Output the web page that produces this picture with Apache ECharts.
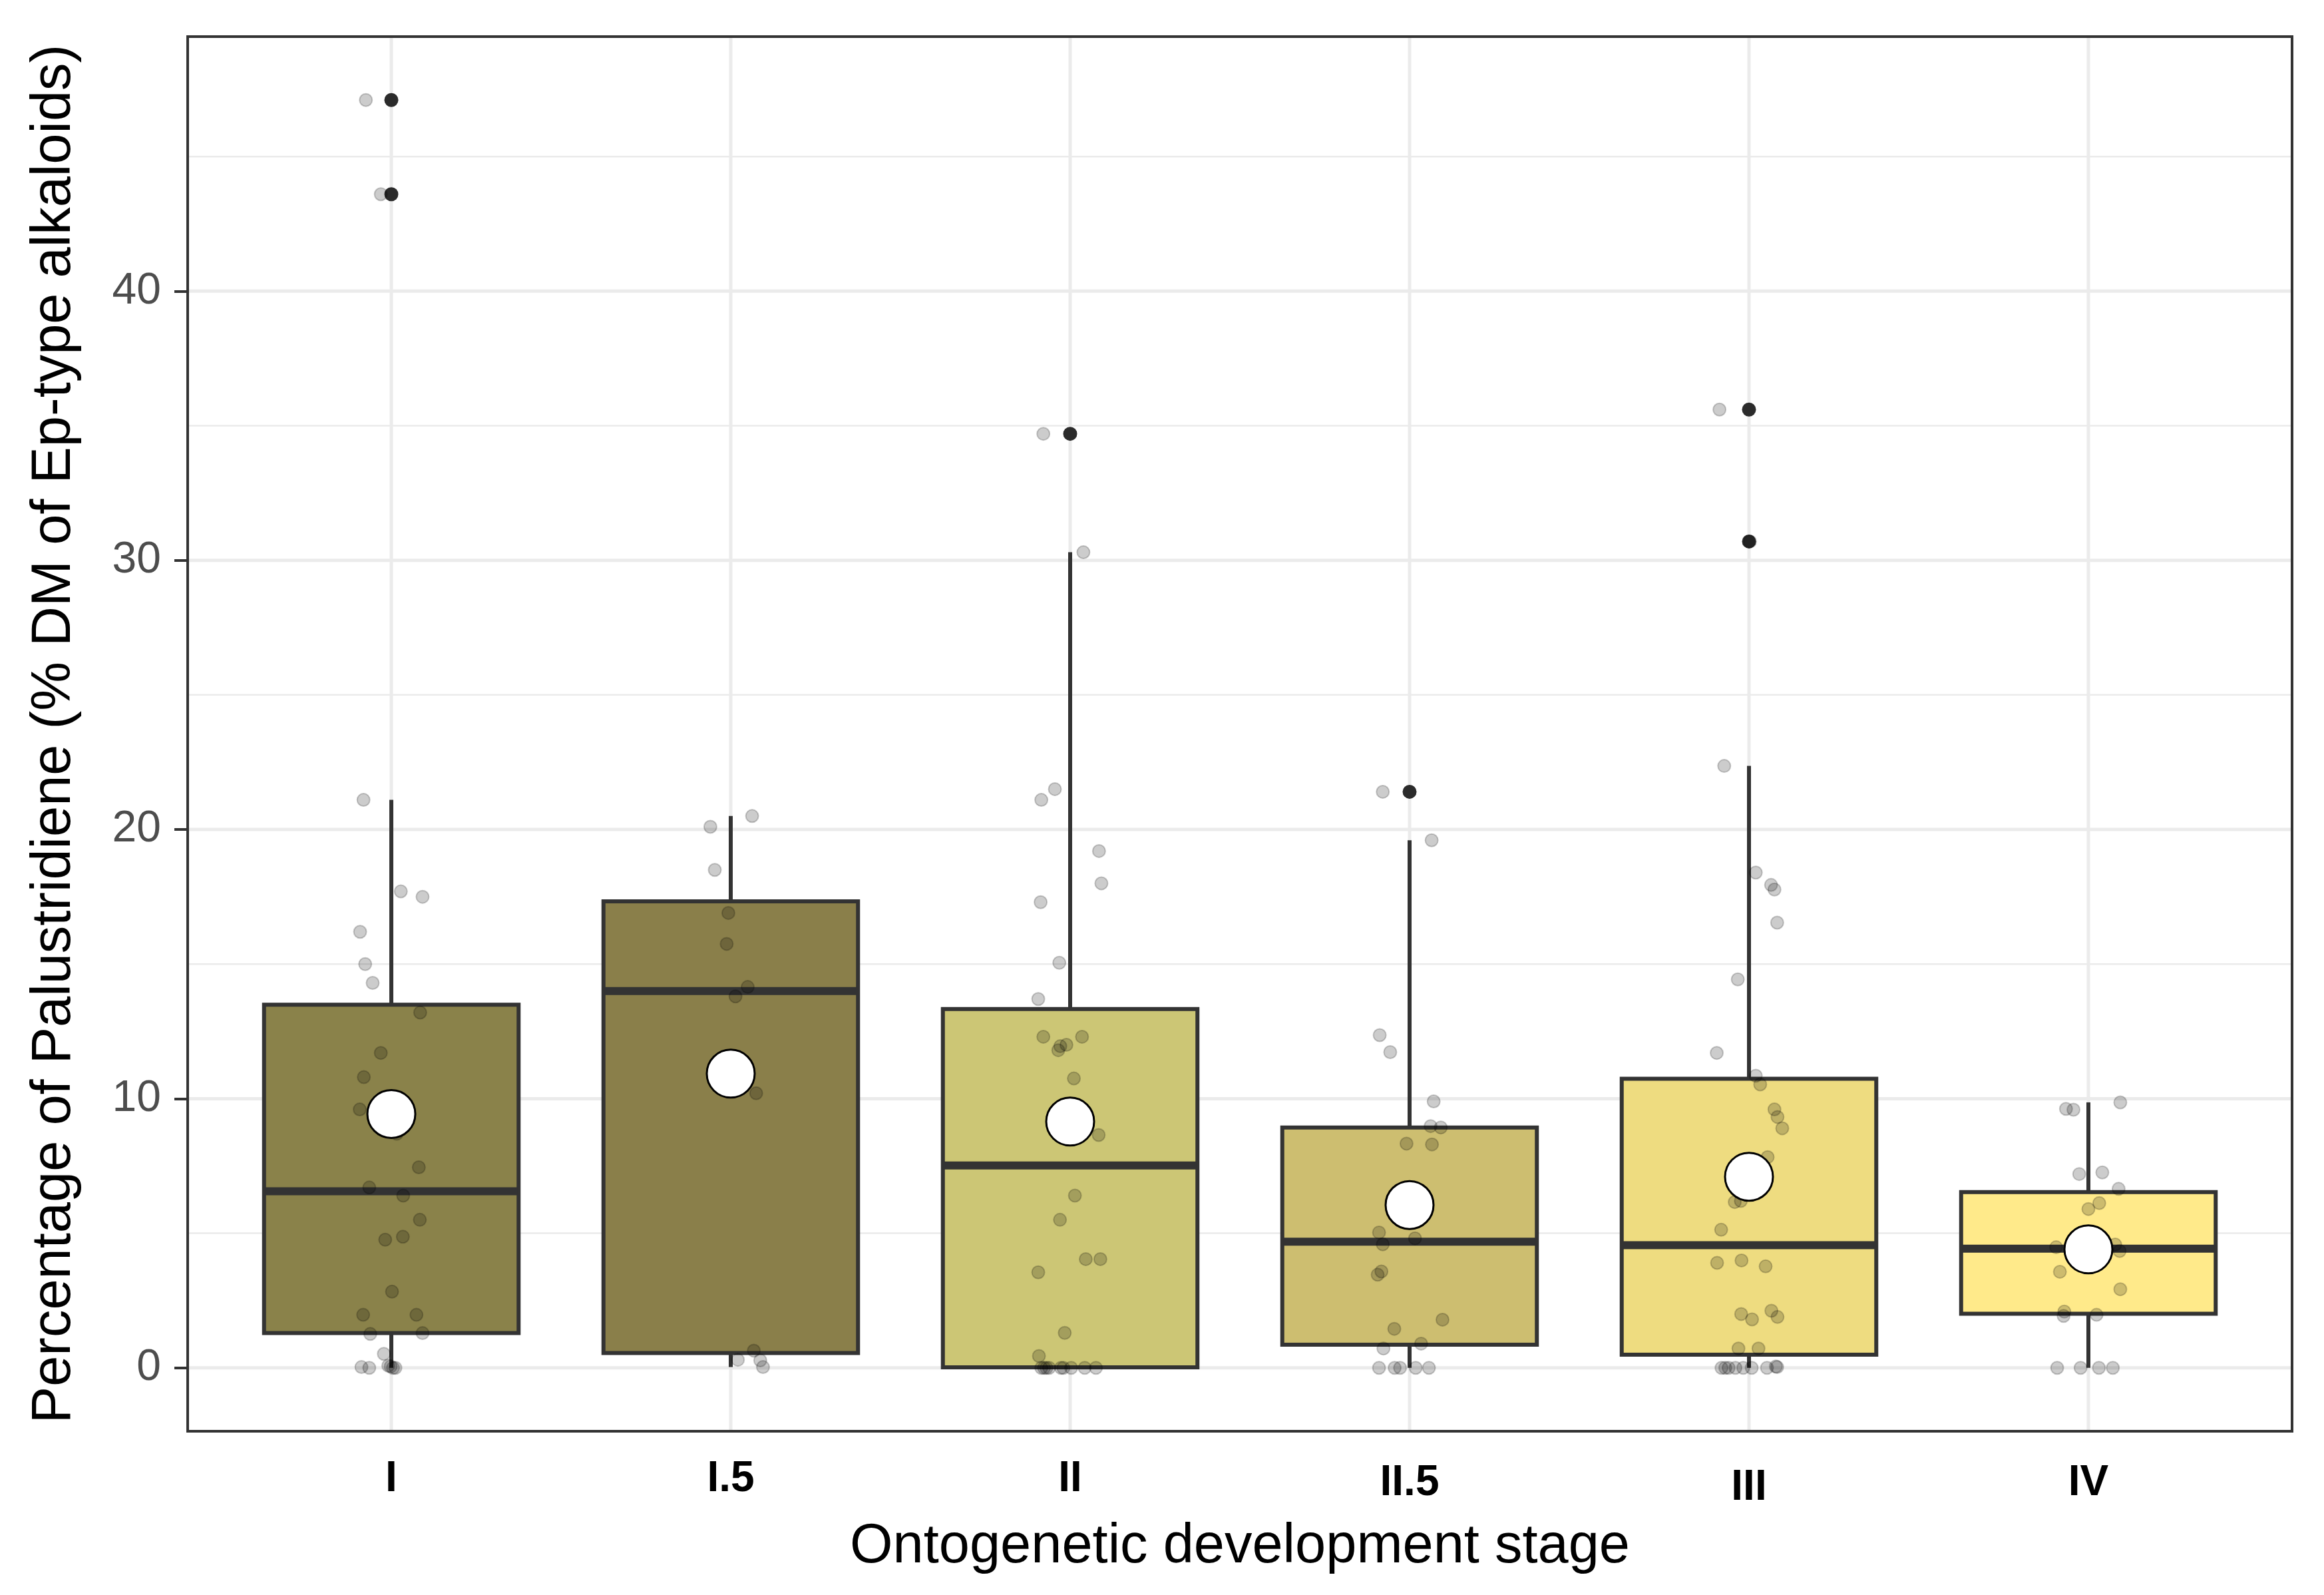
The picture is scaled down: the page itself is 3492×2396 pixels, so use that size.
<!DOCTYPE html>
<html><head><meta charset="utf-8">
<script src="https://cdn.jsdelivr.net/npm/echarts@6/dist/echarts.min.js"></script>
<style>html,body{margin:0;padding:0;background:#fff}#c{width:3492px;height:2396px}</style>
</head><body><div id="c"></div>
<script>
// ---------------- data ----------------
const stages = ['I', 'I.5', 'II', 'II.5', 'III', 'IV'];
const whiskerLow  = [0,     0.03,  0,     0,     0,     0];
const q1          = [1.29,  0.55,  0.02,  0.86,  0.49,  2.01];
const median      = [6.56,  14.0,  7.52,  4.69,  4.56,  4.43];
const q3          = [13.49, 17.33, 13.33, 8.93,  10.74, 6.53];
const whiskerHigh = [21.1,  20.5,  30.3,  19.6,  22.36, 9.86];
const means       = [9.43,  10.93, 9.15,  6.05,  7.1,   4.4];
const outlierStage = [0, 0, 2, 3, 4, 4];
const outlierValue = [47.1, 43.6, 34.7, 21.4, 35.6, 30.7];
// raw observations: [horizontal jitter (category units), value]
const pointsI = [[-0.075,47.1],[-0.031,43.6],[-0.082,21.1],[0.028,17.7],[0.092,17.5],[-0.092,16.2],[-0.077,15.0],[-0.055,14.3],[0.085,13.2],[-0.031,11.7],[-0.081,10.8],[-0.093,9.6],[0.016,8.7],[0.081,7.45],[-0.065,6.7],[0.035,6.4],[0.084,5.5],[-0.018,4.76],[0.034,4.87],[0.002,2.83],[-0.083,1.97],[0.074,1.97],[-0.062,1.26],[0.092,1.29],[-0.022,0.52],[-0.088,0.03],[-0.065,0],[-0.009,0.08],[0.012,0],[0.005,0],[-0.002,0.05]];
const pointsI5 = [[-0.060,20.1],[0.063,20.5],[-0.047,18.5],[-0.007,16.9],[-0.012,15.75],[0.050,14.15],[0.014,13.8],[0.075,10.2],[0.068,0.64],[0.021,0.3],[0.087,0.28],[0.095,0.03]];
const pointsII = [[-0.079,34.7],[0.039,30.3],[-0.045,21.5],[-0.085,21.1],[0.085,19.2],[0.092,18.0],[-0.087,17.3],[-0.032,15.05],[-0.094,13.7],[-0.079,12.3],[0.035,12.3],[-0.011,12.0],[-0.035,11.8],[-0.029,11.95],[0.011,10.75],[0.084,8.65],[0.014,6.4],[-0.030,5.5],[0.046,4.04],[0.089,4.04],[-0.094,3.55],[-0.016,1.3],[-0.092,0.44],[-0.077,0],[-0.062,0],[-0.027,0],[0.003,0],[0.043,0],[0.076,0],[-0.085,0],[-0.070,0],[-0.020,0]];
const pointsII5 = [[-0.079,21.4],[0.065,19.6],[-0.088,12.36],[-0.057,11.73],[0.071,9.9],[0.062,8.98],[0.092,8.93],[-0.009,8.33],[0.066,8.3],[-0.090,5.03],[0.016,4.81],[-0.079,4.59],[-0.083,3.58],[-0.094,3.46],[0.097,1.79],[-0.045,1.45],[0.034,0.9],[-0.077,0.72],[-0.090,0],[-0.044,0],[-0.028,0],[0.018,0],[0.057,0]];
const pointsIII = [[-0.087,35.6],[0.003,30.7],[-0.073,22.36],[0.020,18.4],[0.065,17.94],[0.075,17.77],[0.083,16.54],[-0.033,14.43],[-0.095,11.7],[0.020,10.85],[0.033,10.53],[0.075,9.6],[0.084,9.32],[0.098,8.9],[0.055,7.83],[-0.042,6.16],[-0.024,6.2],[-0.082,5.13],[-0.094,3.9],[-0.022,3.99],[0.049,3.77],[-0.023,2.0],[0.009,1.8],[0.066,2.12],[0.084,1.89],[-0.031,0.72],[0.028,0.72],[-0.081,0],[-0.070,0],[-0.060,0],[-0.017,0],[0.008,0],[0.053,0],[0.079,0.05],[0.083,0.03],[-0.040,0]];
const pointsIV = [[-0.066,9.62],[-0.044,9.59],[0.094,9.86],[-0.027,7.2],[0.041,7.26],[0.089,6.65],[0.032,6.12],[0.0,5.9],[-0.095,4.48],[0.079,4.58],[0.092,4.34],[-0.084,3.57],[0.094,2.92],[-0.071,2.09],[-0.073,1.93],[0.024,1.97],[-0.092,0],[-0.023,0],[0.031,0],[0.072,0]];
const yMajor = [0, 10, 20, 30, 40];
const yMinor = [5, 15, 25, 35, 45];

// ---------------- style ----------------
const fills = ['#8A824A', '#8A7F4A', '#CCC675', '#CDBE70', '#EEDC80', '#FFEA8A'];
const labelDrop = [0, 0, 0, 6, 13, 6]; // small vertical offsets of x tick labels (px)
const FONT = "'Liberation Sans', Arial, Helvetica, sans-serif";
const X_MIN = 0.4, X_MAX = 6.6, Y_MIN = -2.355, Y_MAX = 49.455;
const INK = '#333333';
const BOX_LW = 6, MED_LW = 12;

const xTicks = stages.map((s, i) => i + 1);
const gridData = [].concat(
  yMajor.map(v => [0, v, 1]),
  yMinor.map(v => [0, v, 0]),
  xTicks.map(v => [1, v, 1])
);
const boxData = stages.map((s, i) => [i + 1, whiskerLow[i], q1[i], median[i], q3[i], whiskerHigh[i]]);
const outlierData = outlierValue.map((v, i) => [outlierStage[i] + 1, v]);
const jitterGroups = [pointsI, pointsI5, pointsII, pointsII5, pointsIII, pointsIV];
const jitterData = [];
jitterGroups.forEach((g, i) => g.forEach(p => jitterData.push([i + 1 + p[0], p[1]])));
const meanData = means.map((v, i) => [i + 1, v]);

const richLabels = {};
labelDrop.forEach((d, i) => {
  richLabels['l' + i] = {color: '#000', fontWeight: 'bold', fontSize: 64, fontFamily: FONT, padding: [d, 0, 0, 0]};
});

const chart = echarts.init(document.getElementById('c'), null, {renderer: 'canvas', width: 3492, height: 2396});
chart.setOption({
  animation: false,
  backgroundColor: '#ffffff',
  grid: {left: 282, right: 48, top: 55, bottom: 246, show: true, borderColor: INK, borderWidth: 4, backgroundColor: 'transparent'},
  xAxis: {
    type: 'value', min: X_MIN, max: X_MAX,
    axisLine: {show: false},
    splitLine: {show: false},
    axisTick: {show: true, customValues: xTicks, length: 20, lineStyle: {color: INK, width: 4}},
    axisLabel: {customValues: xTicks,
      formatter: v => { const i = Math.round(v) - 1; return stages[i] ? '{l' + i + '|' + stages[i] + '}' : ''; },
      rich: richLabels,
      color: '#000', fontWeight: 'bold', fontSize: 64, fontFamily: FONT, margin: 40, verticalAlign: 'top'},
    name: 'Ontogenetic development stage', nameLocation: 'middle', nameGap: 133,
    nameTextStyle: {color: '#000', fontSize: 83, fontFamily: FONT}
  },
  yAxis: {
    type: 'value', min: Y_MIN, max: Y_MAX,
    axisLine: {show: false},
    splitLine: {show: false},
    axisTick: {show: true, customValues: yMajor, length: 20, lineStyle: {color: INK, width: 4}},
    axisLabel: {customValues: yMajor, color: '#4D4D4D', fontSize: 66, fontFamily: FONT, margin: 40},
    name: 'Percentage of Palustridiene (% DM of Ep-type alkaloids)', nameLocation: 'middle', nameGap: 158,
    nameTextStyle: {color: '#000', fontSize: 83, fontFamily: FONT}
  },
  series: [
    {
      type: 'custom', z: 1, silent: true, data: gridData,
      renderItem: (params, api) => {
        const cs = params.coordSys;
        const o = api.value(0), v = api.value(1), k = api.value(2);
        const lw = k ? 5 : 2.5;
        if (o === 0) {
          const y = api.coord([X_MIN, v])[1];
          return {type: 'line', shape: {x1: cs.x + 2, y1: y, x2: cs.x + cs.width - 2, y2: y}, style: {stroke: '#EBEBEB', lineWidth: lw}};
        }
        const x = api.coord([v, Y_MIN])[0];
        return {type: 'line', shape: {x1: x, y1: cs.y + 2, x2: x, y2: cs.y + cs.height - 2}, style: {stroke: '#EBEBEB', lineWidth: lw}};
      }
    },
    {
      type: 'custom', z: 2, silent: true, data: boxData,
      renderItem: (params, api) => {
        const x = api.value(0);
        const pLo = api.coord([x, api.value(1)]);
        const pA = api.coord([x, api.value(2)]);
        const pM = api.coord([x, api.value(3)]);
        const pB = api.coord([x, api.value(4)]);
        const pHi = api.coord([x, api.value(5)]);
        const w = api.size([0.75, 0])[0];
        const cx = pA[0];
        return {type: 'group', children: [
          {type: 'line', shape: {x1: cx, y1: pHi[1], x2: cx, y2: pB[1]}, style: {stroke: INK, lineWidth: BOX_LW}},
          {type: 'line', shape: {x1: cx, y1: pA[1], x2: cx, y2: pLo[1]}, style: {stroke: INK, lineWidth: BOX_LW}},
          {type: 'rect', shape: {x: cx - w / 2, y: pB[1], width: w, height: pA[1] - pB[1]},
            style: {fill: fills[params.dataIndex], stroke: INK, lineWidth: BOX_LW}},
          {type: 'line', shape: {x1: cx - w / 2 + 2, y1: pM[1], x2: cx + w / 2 - 2, y2: pM[1]}, style: {stroke: INK, lineWidth: MED_LW}}
        ]};
      }
    },
    {
      type: 'scatter', z: 3, silent: true, data: outlierData, symbol: 'circle', symbolSize: 21,
      itemStyle: {color: '#2b2b2b', opacity: 1}
    },
    {
      type: 'scatter', z: 4, silent: true, data: jitterData, symbol: 'circle', symbolSize: 19,
      itemStyle: {color: 'rgba(0,0,0,0.2)', borderColor: 'rgba(0,0,0,0.2)', borderWidth: 2, opacity: 1}
    },
    {
      type: 'scatter', z: 5, silent: true, data: meanData, symbol: 'circle', symbolSize: 72,
      itemStyle: {color: '#ffffff', borderColor: '#000000', borderWidth: 3, opacity: 1}
    }
  ]
});
</script>
</body></html>
